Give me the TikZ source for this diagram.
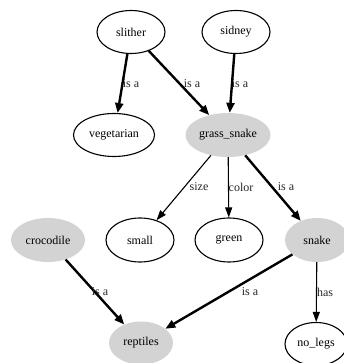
\documentclass[tikz,border=0pt]{standalone}
\usepackage{fontspec}
\setmainfont{Liberation Serif}
\usetikzlibrary{shapes.geometric,arrows.meta}
\begin{document}
\begin{tikzpicture}[x=1pt,y=-1pt,
  plain/.style={ellipse,draw,line width=1.1pt,inner sep=0pt,font=\fontsize{12}{12}\selectfont},
  shaded/.style={ellipse,fill={rgb,255:red,211;green,211;blue,211},inner sep=0pt,font=\fontsize{12}{12}\selectfont},
  lab/.style={inner sep=0pt,font=\fontsize{12}{12}\selectfont,text=black!85},
  isa/.style={line width=2.4pt,-{Triangle[length=10pt,width=8pt]}},
  attr/.style={line width=1.1pt,-{Triangle[length=10pt,width=7pt]}}]
\useasboundingbox (0,0) rectangle (343,363);

% nodes
\node[plain,minimum width=68pt,minimum height=43pt] (slither) at (131,32) {slither};
\node[plain,minimum width=68pt,minimum height=43pt] (sidney) at (236,32) {sidney};
\node[plain,minimum width=81pt,minimum height=43pt] (veg) at (114,135) {vegetarian};
\node[shaded,minimum width=85pt,minimum height=44pt] (grass) at (228,135) {grass\_snake};
\node[plain,minimum width=68pt,minimum height=44pt] (small) at (140,240) {small};
\node[plain,minimum width=68pt,minimum height=44pt] (green) at (229,240) {green};
\node[shaded,minimum width=64pt,minimum height=44pt] (snake) at (317,240) {snake};
\node[shaded,minimum width=74pt,minimum height=44pt] (croc) at (48,240) {crocodile};
\node[shaded,minimum width=64pt,minimum height=43pt] (rept) at (141,343) {reptiles};
\node[plain,minimum width=62pt,minimum height=43pt] (legs) at (316,344) {no\_legs};

% edges
\draw[isa] (slither) -- (veg);
\draw[isa] (slither) -- (grass);
\draw[isa] (sidney) -- (grass);
\draw[attr] (grass) -- (small);
\draw[attr] (grass) -- (green);
\draw[isa] (grass) -- (snake);
\draw[isa] (croc) -- (rept);
\draw[isa] (snake) -- (rept);
\draw[attr] (snake) -- (legs);

% edge labels
\node[lab] (l1) at (131,84) {is a};
\node[lab] (l2) at (192,84) {is a};
\node[lab] (l3) at (240,84) {is a};
\node[lab] (l4) at (199,187) {size};
\node[lab] (l5) at (241,187) {color};
\node[lab] (l6) at (286,187) {is a};
\node[lab] (l7) at (100,292) {is a};
\node[lab] (l8) at (250,292) {is a};
\node[lab] (l9) at (325,292) {has};
\end{tikzpicture}
\end{document}
